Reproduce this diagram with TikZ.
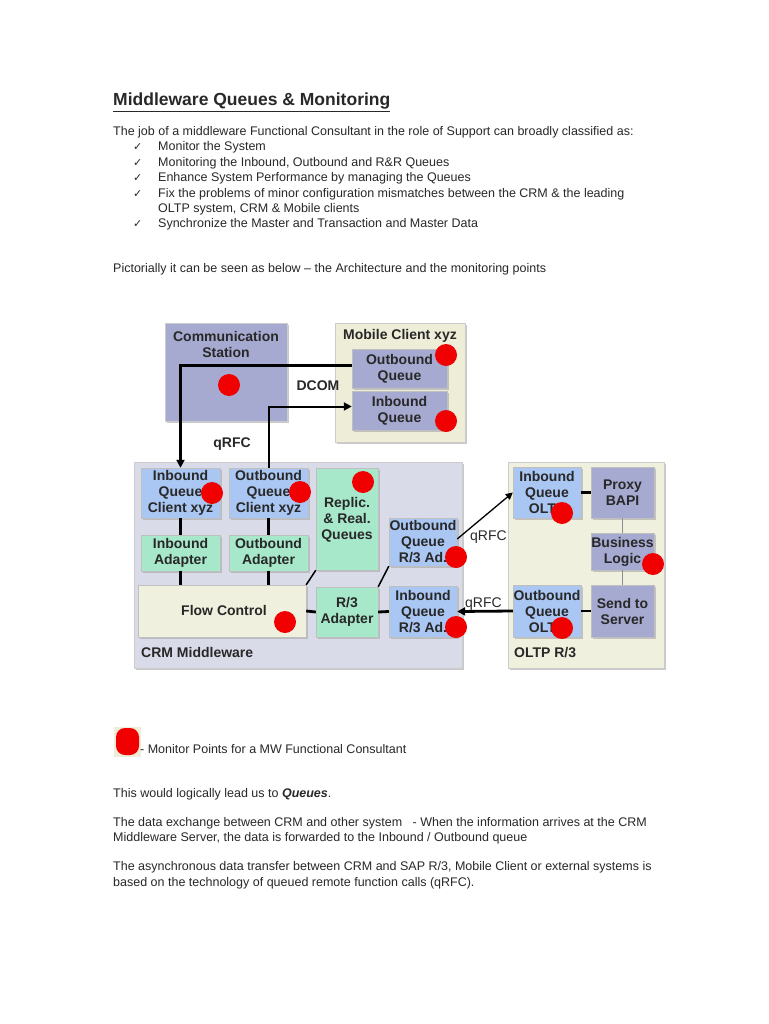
\documentclass[tikz,border=0pt]{standalone}
\usepackage{fontspec}
\setmainfont{Liberation Sans}
\newfontfamily\dejavu{DejaVu Sans}
\usetikzlibrary{arrows.meta,shadows}
\definecolor{lav}{RGB}{166,170,208}
\definecolor{qblue}{RGB}{170,198,242}
\definecolor{mint}{RGB}{168,232,202}
\definecolor{beige}{RGB}{240,240,222}
\definecolor{crmbg}{RGB}{217,219,233}
\definecolor{mobbg}{RGB}{238,238,216}
\definecolor{dotred}{RGB}{240,0,0}
\definecolor{txt}{RGB}{40,40,40}
\tikzset{
  body/.style={anchor=base west,inner sep=0pt,font=\fontsize{12.5}{15}\selectfont,text=txt},
  chk/.style={anchor=base west,inner sep=0pt,font=\dejavu\fontsize{11}{13}\selectfont,text=txt},
  box/.style={draw=black!25,line width=0.4pt,inner sep=0pt,align=center,
    font=\fontsize{14}{16}\selectfont\bfseries,text=txt,
    drop shadow={shadow xshift=1.5pt,shadow yshift=-1.5pt,fill=black!35,opacity=0.6}},
  cont/.style={draw=black!20,line width=0.4pt,
    drop shadow={shadow xshift=2pt,shadow yshift=-2pt,fill=black!35,opacity=0.6}},
  lbl/.style={inner sep=0pt,font=\fontsize{14}{16}\selectfont\bfseries,text=txt},
  plbl/.style={anchor=base west,inner sep=0pt,font=\fontsize{14}{16}\selectfont,text=txt},
  mdot/.style={circle,fill=dotred,minimum size=22pt,inner sep=0pt},
  thickc/.style={line width=2.8pt,black},
  thinc/.style={line width=2pt,black},
  greyc/.style={line width=0.8pt,black!45},
  tipA/.style={-{Triangle[length=8pt,width=8pt]}},
  tipB/.style={-{Triangle[length=8pt,width=8pt]}},
}
\begin{document}
\begin{tikzpicture}[x=1pt,y=-1pt]
\useasboundingbox[fill=white] (0,0) rectangle (768,1024);

% ---------- heading text
\node[anchor=base west,inner sep=0pt,font=\fontsize{17.5}{20}\selectfont\bfseries,text=txt] (title) at (113,106) {\underline{Middleware Queues \& Monitoring}};
\node[body] (t1) at (113,136) {The job of a middleware Functional Consultant in the role of Support can broadly classified as:};
\node[chk] (c1) at (133,151) {✓};
\node[body] (t2) at (158,151) {Monitor the System};
\node[chk] (c2) at (133,167) {✓};
\node[body] (t3) at (158,167) {Monitoring the Inbound, Outbound and R\&R Queues};
\node[chk] (c3) at (133,182) {✓};
\node[body] (t4) at (158,182) {Enhance System Performance by managing the Queues};
\node[chk] (c4) at (133,198) {✓};
\node[body] (t5) at (158,198) {Fix the problems of minor configuration mismatches between the CRM \& the leading};
\node[body] (t6) at (158,213) {OLTP system, CRM \& Mobile clients};
\node[chk] (c5) at (133,228) {✓};
\node[body] (t7) at (158,228) {Synchronize the Master and Transaction and Master Data};
\node[body] (t8) at (113,272) {Pictorially it can be seen as below -- the Architecture and the monitoring points};

% ---------- containers
\node[cont,fill=lav,minimum width=122pt,minimum height=98pt] (cs) at (226,372) {};
\node[lbl,align=center] (cslbl) at (226,344) {Communication\\Station};
\node[cont,fill=mobbg,minimum width=130pt,minimum height=119pt] (mob) at (400,382.5) {};
\node[lbl] (moblbl) at (400,336) {Mobile Client xyz};
\node[cont,fill=crmbg,minimum width=328pt,minimum height=206pt] (crm) at (298,565) {};
\node[lbl,anchor=base west] (crmlbl) at (141,657.5) {CRM Middleware};
\node[cont,fill=beige,minimum width=156pt,minimum height=206pt] (oltp) at (586,565) {};
\node[lbl,anchor=base west] (oltplbl) at (514,657.5) {OLTP R/3};

% ---------- mobile client boxes
\node[box,fill=lav,minimum width=95pt,minimum height=39pt] (mo) at (399.5,368.5) {Outbound\\Queue};
\node[box,fill=lav,minimum width=95pt,minimum height=39pt] (mi) at (399.5,410.5) {Inbound\\Queue};

% ---------- CRM boxes
\node[box,fill=qblue,minimum width=79pt,minimum height=50pt] (iqc) at (180.5,493) {Inbound\\Queue\\Client xyz};
\node[box,fill=qblue,minimum width=79pt,minimum height=50pt] (oqc) at (268.5,493) {Outbound\\Queue\\Client xyz};
\node[box,fill=mint,minimum width=62pt,minimum height=102pt] (rr) at (347,519) {};
\node[lbl,align=center] (rrlbl) at (347,520) {Replic.\\\& Real.\\Queues};
\node[box,fill=mint,minimum width=79pt,minimum height=36pt] (ia) at (180.5,553) {Inbound\\Adapter};
\node[box,fill=mint,minimum width=79pt,minimum height=36pt] (oa) at (268.5,553) {Outbound\\Adapter};
\node[box,fill=beige,minimum width=168pt,minimum height=52pt] (fc) at (222,611) {};
\node[lbl] (fclbl) at (224,610) {Flow Control};
\node[box,fill=mint,minimum width=62pt,minimum height=50pt] (r3) at (347,612) {R/3\\Adapter};
\node[box,fill=qblue,minimum width=68pt,minimum height=48pt] (oqr) at (423,542) {Outbound\\Queue\\R/3 Ad.};
\node[box,fill=qblue,minimum width=68pt,minimum height=51pt] (iqr) at (423,611.5) {Inbound\\Queue\\R/3 Ad.};

% ---------- OLTP boxes
\node[box,fill=qblue,minimum width=68pt,minimum height=51pt] (iqo) at (547,492.5) {Inbound\\Queue\\OLTP};
\node[box,fill=lav,minimum width=63pt,minimum height=51pt] (pb) at (622.5,492.5) {Proxy\\BAPI};
\node[box,fill=lav,minimum width=63pt,minimum height=37pt] (bl) at (622.5,551.5) {Business\\Logic};
\node[box,fill=qblue,minimum width=68pt,minimum height=52pt] (ooo) at (547,611) {Outbound\\Queue\\OLTP};
\node[box,fill=lav,minimum width=63pt,minimum height=52pt] (ss) at (622.5,611) {Send to\\Server};

% ---------- connectors
\draw[thickc,tipA] ([yshift=3pt]mo.west) -| (iqc.north);
\draw[thinc,tipB] (oqc.north) |- ([yshift=4pt]mi.west);
\node[lbl] (dcom) at (318,386) {DCOM};
\node[lbl] (qrfc1) at (232,444) {qRFC};

\draw[thickc] (iqc.south) -- (ia.north);
\draw[thickc] (ia.south) -- (ia.south |- fc.north);
\draw[thickc] (oqc.south) -- (oa.north);
\draw[thickc] (oa.south) -- (oa.south |- fc.north);
\draw[line width=1.5pt] (rr.south west) -- (fc.north east);
\draw[line width=1.5pt] (oqr.south west) -- (r3.north east);
\draw[thickc] (fc.east) -- (r3.west);
\draw[thickc] (r3.east) -- (iqr.west);
\draw[thickc] (iqo.east) -- (pb.west);
\draw[thickc] (ooo.east) -- (ss.west);
\draw[greyc] (pb.south) -- (bl.north);
\draw[greyc] (bl.south) -- (ss.north);

\draw[line width=1.3pt,-{Triangle[length=7pt,width=7pt]}] ([yshift=3pt]oqr.east) -- (iqo.west);
\node[plbl] (qrfc2) at (470,540.5) {qRFC};
\draw[thickc,tipA] (ooo.west) -- (iqr.east);
\node[plbl] (qrfc3) at (465,607) {qRFC};

% ---------- monitor points
\node[mdot] (d1) at (229,385) {};
\node[mdot] (d2) at (446,355) {};
\node[mdot] (d3) at (446,421) {};
\node[mdot] (d4) at (212,493) {};
\node[mdot] (d5) at (300,492) {};
\node[mdot] (d6) at (363,482) {};
\node[mdot] (d7) at (456,557) {};
\node[mdot] (d8) at (285,622) {};
\node[mdot] (d9) at (456,627) {};
\node[mdot] (d10) at (562,513) {};
\node[mdot] (d11) at (653,564) {};
\node[mdot] (d12) at (562,628) {};

% ---------- legend
\fill[mobbg] (114,727) rectangle (141,757);
\node[fill=dotred,rounded corners=9pt,minimum width=23pt,minimum height=27pt,inner sep=0pt] (leg) at (127.5,741.5) {};
\node[body] (legt) at (140,753) {- Monitor Points for a MW Functional Consultant};

% ---------- bottom text
\node[body] (b1) at (113,797) {This would logically lead us to \textbf{\textit{Queues}}.};
\node[body] (b2) at (113,826) {The data exchange between CRM and other system \ \ - When the information arrives at the CRM};
\node[body] (b3) at (113,841) {Middleware Server, the data is forwarded to the Inbound / Outbound queue};
\node[body] (b4) at (113,870) {The asynchronous data transfer between CRM and SAP R/3, Mobile Client or external systems is};
\node[body] (b5) at (113,886) {based on the technology of queued remote function calls (qRFC).};
\end{tikzpicture}
\end{document}
